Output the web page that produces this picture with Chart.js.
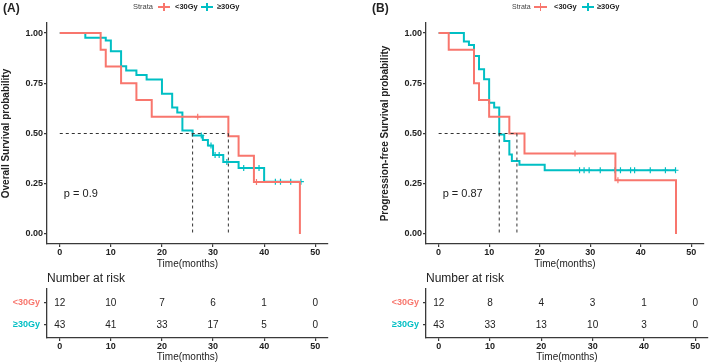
<!DOCTYPE html>
<html><head><meta charset="utf-8">
<script src="https://cdn.jsdelivr.net/npm/chart.js@4.4.1/dist/chart.umd.min.js"></script>
<style>
body{margin:0;width:709px;height:363px;background:#fff;position:relative;overflow:hidden;font-family:"Liberation Sans",Arial,sans-serif;}
canvas{position:absolute;}
.t{position:absolute;white-space:nowrap;line-height:12px;color:#222;}
.key{position:absolute;height:2px;}
.key i{position:absolute;left:50%;top:-3px;width:1.5px;height:8px;margin-left:-0.75px;}
</style></head><body>
<canvas id="kmA" width="355" height="270" style="left:0;top:0"></canvas>
<canvas id="riskA" width="355" height="93" style="left:0;top:270px"></canvas>
<canvas id="kmB" width="337" height="270" style="left:372px;top:0"></canvas>
<canvas id="riskB" width="337" height="93" style="left:372px;top:270px"></canvas>
<div id="overlay"></div>
<script>
// ---------- data ----------
const timeTicks = [0, 10, 20, 30, 40, 50];
const survTicks = [0, 0.25, 0.5, 0.75, 1];
const strata = ['<30Gy', '≥30Gy'];
const panelTags = ['(A)', '(B)'];

// Panel A: overall survival
const osLowT  = [0, 8, 9, 12, 15, 18, 33, 35, 38, 47];
const osLowS  = [1, 0.917, 0.833, 0.75, 0.667, 0.583, 0.486, 0.389, 0.259, 0];
const osLowCensT = [27, 38.5];
const osLowCensS = [0.583, 0.259];
const osHighT = [0, 5, 9, 10, 12, 13, 15, 17, 20, 22, 23, 24, 26, 28, 29, 30, 32, 35, 40, 47];
const osHighS = [1, 0.977, 0.963, 0.91, 0.835, 0.814, 0.791, 0.769, 0.698, 0.63, 0.605, 0.515, 0.49, 0.468, 0.44, 0.393, 0.358, 0.328, 0.26, 0.26];
const osHighCensT = [27.7, 29.6, 30.4, 31.2, 32.7, 36, 39, 42.2, 43.2, 45.2, 47.2];
const osHighCensS = [0.49, 0.44, 0.393, 0.393, 0.358, 0.328, 0.328, 0.26, 0.26, 0.26, 0.26];
const osMedians = [26, 33];
const osP = 'p = 0.9';
const osRiskLow  = [12, 10, 7, 6, 1, 0];
const osRiskHigh = [43, 41, 33, 17, 5, 0];

// Panel B: progression-free survival
const pfsLowT = [0, 2, 7, 8, 10, 14, 17, 35, 47];
const pfsLowS = [1, 0.917, 0.75, 0.667, 0.583, 0.5, 0.4, 0.267, 0];
const pfsLowCensT = [27, 35.5];
const pfsLowCensS = [0.4, 0.267];
const pfsHighT = [0, 5, 6, 7, 8, 9, 10, 11, 12, 13, 14, 14.5, 16, 21, 47];
const pfsHighS = [1, 0.958, 0.94, 0.886, 0.82, 0.77, 0.653, 0.63, 0.495, 0.463, 0.395, 0.363, 0.345, 0.317, 0.317];
const pfsHighCensT = [27.9, 28.8, 29.8, 32, 34.9, 36, 38, 38.8, 41.9, 44.9, 46.9];
const pfsHighCensS = [0.317, 0.317, 0.317, 0.317, 0.317, 0.317, 0.317, 0.317, 0.317, 0.317, 0.317];
const pfsMedians = [12, 15.5];
const pfsP = 'p = 0.87';
const pfsRiskLow  = [12, 8, 4, 3, 1, 0];
const pfsRiskHigh = [43, 33, 13, 10, 3, 0];

// ---------- styling ----------
const RED = '#F8766D', CYAN = '#00BFC4', AXIS = '#3a3a3a', TXT = '#222';
const FF = '"Liberation Sans", Arial, sans-serif';
const colors = [RED, CYAN];

const txtPlugin = {
  id: 'txt',
  afterDatasetsDraw(chart, args, opts) {
    const ctx = chart.ctx; ctx.save();
    ctx.textBaseline = 'middle';
    (opts.items || []).forEach(it => {
      ctx.font = it.font; ctx.fillStyle = it.color || TXT; ctx.textAlign = it.align || 'left';
      let x, y;
      if (it.data) { x = chart.scales.x.getPixelForValue(it.x); y = chart.scales.y.getPixelForValue(it.y); }
      else { x = chart.chartArea.left + it.dx; y = chart.chartArea.top + it.dy; }
      ctx.fillText(it.text, x, y);
    });
    ctx.font = '10px ' + FF; ctx.fillStyle = TXT; ctx.textAlign = 'center';
    chart.data.datasets.forEach((ds, i) => {
      if (!ds.riskLabels) return;
      chart.getDatasetMeta(i).data.forEach((p, j) => ctx.fillText(String(ds.riskLabels[j]), p.x, p.y + 0.5));
    });
    ctx.restore();
  }
};

function xScale(h) {
  return {
    type: 'linear', min: -2.5, max: 52.5,
    afterBuildTicks: s => { s.ticks = timeTicks.map(v => ({ value: v })); },
    afterFit: s => { s.height = h; },
    ticks: { font: { family: FF, size: 9, weight: 'bold' }, color: TXT, padding: 0, maxRotation: 0, autoSkip: false },
    grid: { drawOnChartArea: false, drawTicks: true, tickLength: 3, color: AXIS, lineWidth: 1.2 },
    border: { display: true, color: AXIS, width: 1.3 },
    title: { display: true, text: 'Time(months)', font: { family: FF, size: 10 }, color: TXT, padding: { top: 0, bottom: 0 } }
  };
}

function pts(t, s) { return t.map((v, i) => ({ x: v, y: s[i] })); }

function kmChart(id, low, high, lowC, highC, medians, yTitle, pText, yW, titlePad, padRight) {
  const mMax = Math.max(...medians);
  const ds = [];
  const dash = { borderColor: '#333', borderWidth: 1, borderDash: [3, 3], pointRadius: 0, fill: false };
  ds.push(Object.assign({ data: [{ x: 0, y: 0.5 }, { x: mMax, y: 0.5 }] }, dash));
  medians.forEach(m => ds.push(Object.assign({ data: [{ x: m, y: 0.5 }, { x: m, y: 0 }] }, dash)));
  ds.push({ data: pts(low[0], low[1]), borderColor: RED, borderWidth: 2, stepped: 'before', pointRadius: 0, fill: false });
  ds.push({ data: pts(high[0], high[1]), borderColor: CYAN, borderWidth: 2, stepped: 'before', pointRadius: 0, fill: false });
  ds.push({ data: pts(lowC[0], lowC[1]), showLine: false, pointStyle: 'cross', pointRadius: 3, borderColor: RED, borderWidth: 1.2 });
  ds.push({ data: pts(highC[0], highC[1]), showLine: false, pointStyle: 'cross', pointRadius: 3, borderColor: CYAN, borderWidth: 1.2 });
  return new Chart(document.getElementById(id), {
    type: 'line',
    data: { datasets: ds },
    options: {
      responsive: false, animation: false, devicePixelRatio: 1,
      layout: { padding: { left: 0, right: padRight, top: 23, bottom: 0 } },
      scales: {
        x: xScale(26),
        y: {
          type: 'linear', min: -0.05, max: 1.05,
          afterBuildTicks: s => { s.ticks = survTicks.map(v => ({ value: v })); },
          afterFit: s => { s.width = yW; },
          ticks: { font: { family: FF, size: 9, weight: 'bold' }, color: TXT, padding: 1, callback: v => Number(v).toFixed(2) },
          grid: { drawOnChartArea: false, drawTicks: true, tickLength: 3, color: AXIS, lineWidth: 1.2 },
          border: { display: true, color: AXIS, width: 1.3 },
          title: { display: true, text: yTitle, font: { family: FF, size: 10, weight: 'bold' }, color: TXT, padding: { top: titlePad, bottom: 0 } }
        }
      },
      plugins: {
        legend: { display: false }, tooltip: { enabled: false },
        txt: { items: [{ text: pText, data: true, x: 0.8, y: 0.2, font: '11px ' + FF }] }
      }
    },
    plugins: [txtPlugin]
  });
}

function riskChart(id, riskLow, riskHigh, yW, padRight) {
  return new Chart(document.getElementById(id), {
    type: 'line',
    data: { datasets: [
      { data: timeTicks.map(t => ({ x: t, y: 1 })), riskLabels: riskLow, showLine: false, pointRadius: 0 },
      { data: timeTicks.map(t => ({ x: t, y: 2 })), riskLabels: riskHigh, showLine: false, pointRadius: 0 }
    ] },
    options: {
      responsive: false, animation: false, devicePixelRatio: 1,
      layout: { padding: { left: 0, right: padRight, top: 19, bottom: 0 } },
      scales: {
        x: xScale(25),
        y: {
          type: 'linear', min: 0.4, max: 2.6, reverse: true,
          afterBuildTicks: s => { s.ticks = [1, 2].map(v => ({ value: v })); },
          afterFit: s => { s.width = yW; },
          ticks: { font: { family: FF, size: 9, weight: 'bold' }, padding: 4,
                   color: c => colors[(c.tick ? c.tick.value : 1) - 1],
                   callback: v => strata[v - 1] },
          grid: { drawOnChartArea: false, drawTicks: true, tickLength: 3, color: AXIS, lineWidth: 1.2 },
          border: { display: true, color: AXIS, width: 1.3 }
        }
      },
      plugins: {
        legend: { display: false }, tooltip: { enabled: false },
        txt: { items: [{ text: 'Number at risk', dx: 0, dy: -10, font: '12px ' + FF }] }
      }
    },
    plugins: [txtPlugin]
  });
}

kmChart('kmA', [osLowT, osLowS], [osHighT, osHighS], [osLowCensT, osLowCensS], [osHighCensT, osHighCensS],
        osMedians, 'Overall Survival probability', osP, 47, 0, 27);
riskChart('riskA', osRiskLow, osRiskHigh, 47, 27);
kmChart('kmB', [pfsLowT, pfsLowS], [pfsHighT, pfsHighS], [pfsLowCensT, pfsLowCensS], [pfsHighCensT, pfsHighCensS],
        pfsMedians, 'Progression-free Survival probability', pfsP, 54, 7, 1);
riskChart('riskB', pfsRiskLow, pfsRiskHigh, 54, 1);

// ---------- panel tags and legends ----------
const ov = document.getElementById('overlay');
function addText(txt, left, top, size, weight, color) {
  const d = document.createElement('div'); d.className = 't'; d.textContent = txt;
  d.style.left = left + 'px'; d.style.top = top + 'px'; d.style.fontSize = size + 'px';
  d.style.fontWeight = weight; if (color) d.style.color = color; ov.appendChild(d);
}
function addKey(left, width, color) {
  const k = document.createElement('div'); k.className = 'key';
  k.style.left = left + 'px'; k.style.top = '6px'; k.style.width = width + 'px'; k.style.background = color;
  const i = document.createElement('i'); i.style.background = color; k.appendChild(i); ov.appendChild(k);
}
addText(panelTags[0], 3, 2, 12, 'bold');
addText(panelTags[1], 372, 2, 12, 'bold');
// legend A
addText('Strata', 133, 1, 7.5, 'normal', '#444');
addKey(158, 12, RED); addText(strata[0], 175, 1, 7.5, 'bold');
addKey(201, 12, CYAN); addText(strata[1], 217, 1, 7.5, 'bold');
// legend B
addText('Strata', 512, 1, 7, 'normal', '#444');
addKey(534, 13, RED); addText(strata[0], 554, 1, 7.5, 'bold');
addKey(582, 12, CYAN); addText(strata[1], 597, 1, 7.5, 'bold');
</script>
</body></html>
